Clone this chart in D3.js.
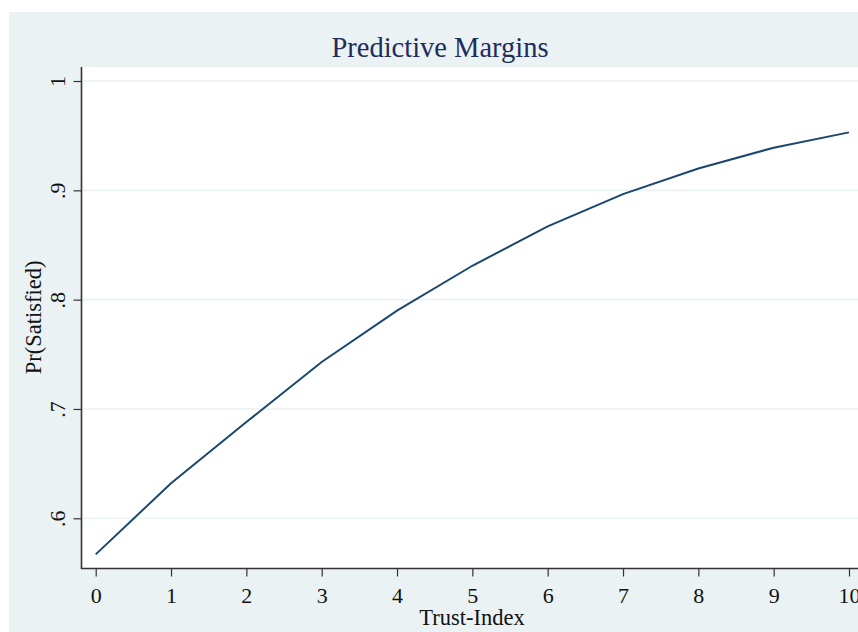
<!DOCTYPE html>
<html>
<head>
<meta charset="utf-8">
<script src="https://cdn.jsdelivr.net/npm/d3@7"></script>
<style>
  body { margin: 0; background: #ffffff; }
  svg { display: block; }
  text { font-family: "Liberation Serif", "Times New Roman", serif; fill: #111; }
</style>
</head>
<body>
<div id="chart"></div>
<script>
// margins at each Trust-Index value
var trustIndex = [0, 1, 2, 3, 4, 5, 6, 7, 8, 9, 10];
var prSatisfied = [0.567, 0.632, 0.688, 0.743, 0.790, 0.831, 0.867, 0.8965, 0.920, 0.939, 0.953];
var xTicks = [0, 1, 2, 3, 4, 5, 6, 7, 8, 9, 10];
var yTicks = [0.6, 0.7, 0.8, 0.9, 1];
var yTickLabels = ['.6', '.7', '.8', '.9', '1'];

var width = 858, height = 632;

var svg = d3.select('#chart')
  .append('svg')
  .attr('width', width)
  .attr('height', height);

// outer graph region
svg.append('rect')
  .attr('x', 9).attr('y', 12)
  .attr('width', width - 9).attr('height', height - 12)
  .attr('fill', '#eaf2f3');

// plot region
var plot = { left: 82, top: 67, right: 870, bottom: 568 };
svg.append('rect')
  .attr('x', plot.left).attr('y', plot.top)
  .attr('width', plot.right - plot.left).attr('height', plot.bottom - plot.top)
  .attr('fill', '#ffffff');

var x = d3.scaleLinear().domain([0, 10]).range([95.7, 849]);
var y = d3.scaleLinear().domain([0.6, 1]).range([518.3, 81]);

// gridlines
svg.append('g')
  .selectAll('line')
  .data(yTicks)
  .enter().append('line')
  .attr('x1', plot.left).attr('x2', plot.right)
  .attr('y1', function (d) { return y(d); })
  .attr('y2', function (d) { return y(d); })
  .attr('stroke', '#eaf2f3')
  .attr('stroke-width', 1.6);

// the curve
var line = d3.line()
  .x(function (d, i) { return x(trustIndex[i]); })
  .y(function (d) { return y(d); });

svg.append('path')
  .datum(prSatisfied)
  .attr('d', line)
  .attr('fill', 'none')
  .attr('stroke', '#1a476f')
  .attr('stroke-width', 2);

// x axis
var xAxis = d3.axisBottom(x)
  .tickValues(xTicks)
  .tickSize(8)
  .tickPadding(11)
  .tickSizeOuter(0)
  .tickFormat(d3.format('d'));
var gx = svg.append('g')
  .attr('transform', 'translate(0,' + (plot.bottom + 0.5) + ')')
  .call(xAxis);
gx.select('.domain').remove();
gx.append('line')
  .attr('x1', plot.left - 1).attr('x2', width)
  .attr('stroke', '#333').attr('stroke-width', 1.6);
gx.selectAll('.tick line').attr('stroke', '#333').attr('stroke-width', 1.2);
gx.selectAll('.tick text')
  .attr('font-family', '"Liberation Serif", serif')
  .attr('font-size', 22)
  .attr('fill', '#111');

// y axis
var yAxis = d3.axisLeft(y)
  .tickValues(yTicks)
  .tickSize(8)
  .tickSizeOuter(0)
  .tickFormat(function (d, i) { return yTickLabels[i]; });
var gy = svg.append('g')
  .attr('transform', 'translate(' + (plot.left - 0.5) + ',0)')
  .call(yAxis);
gy.select('.domain').remove();
gy.append('line')
  .attr('y1', plot.top).attr('y2', plot.bottom + 1)
  .attr('stroke', '#333').attr('stroke-width', 1.6);
gy.selectAll('.tick line').attr('stroke', '#333').attr('stroke-width', 1.2);
gy.selectAll('.tick text')
  .attr('x', null).attr('dy', null)
  .attr('transform', 'translate(-17,0) rotate(-90)')
  .attr('text-anchor', 'middle')
  .attr('font-family', '"Liberation Serif", serif')
  .attr('font-size', 22)
  .attr('fill', '#111');

// titles
svg.append('text')
  .attr('x', 440).attr('y', 57)
  .attr('text-anchor', 'middle')
  .attr('font-size', 28.5)
  .style('fill', '#1f2c5c')
  .text('Predictive Margins');

svg.append('text')
  .attr('x', 472).attr('y', 625)
  .attr('text-anchor', 'middle')
  .attr('font-size', 22.5)
  .text('Trust-Index');

svg.append('text')
  .attr('transform', 'translate(41,' + ((plot.top + plot.bottom) / 2) + ') rotate(-90)')
  .attr('text-anchor', 'middle')
  .attr('font-size', 22.5)
  .text('Pr(Satisfied)');
</script>
</body>
</html>
